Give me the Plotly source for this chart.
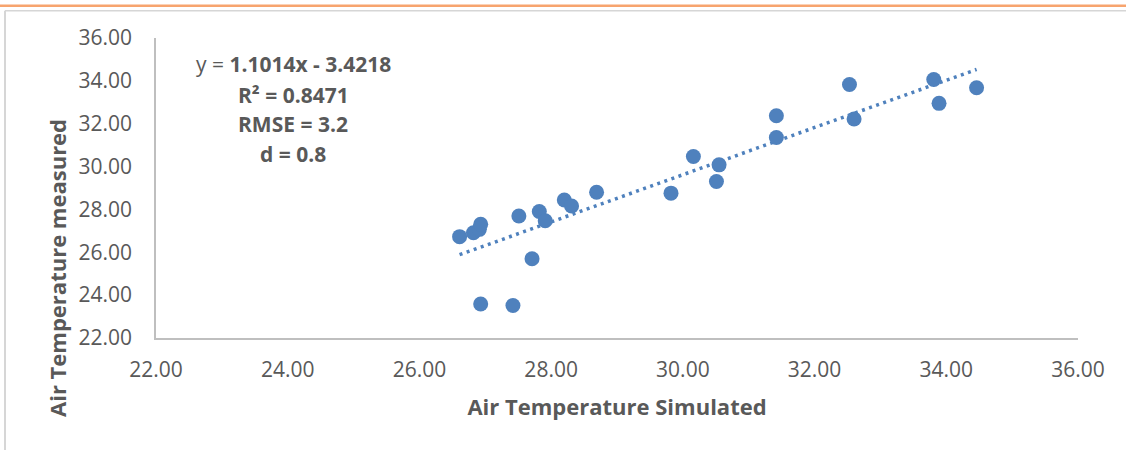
import plotly.graph_objects as go

# ---- data ----
simulated = [26.61, 26.82, 26.91, 26.93, 26.93, 27.42, 27.51, 27.71, 27.82, 27.91,
             28.20, 28.31, 28.69, 29.82, 30.16, 30.51, 30.55, 31.42, 31.42, 32.53,
             32.60, 33.81, 33.89, 34.46]
measured = [26.73, 26.91, 27.07, 27.31, 23.59, 23.52, 27.69, 25.70, 27.90, 27.47,
            28.44, 28.16, 28.80, 28.76, 30.47, 29.30, 30.08, 31.36, 32.37, 33.83,
            32.22, 34.06, 32.95, 33.68]
slope = 1.1014
intercept = -3.4218
stats_lines = ["y = <b>1.1014x - 3.4218</b>", "<b>R² = 0.8471</b>",
               "<b>RMSE = 3.2</b>", "<b>d = 0.8</b>"]
axis_ticks = [22, 24, 26, 28, 30, 32, 34, 36]
x_title = "Air Temperature Simulated"
y_title = "Air Temperature measured"

W, H = 1126, 450
L, R, T, B = 156, 48, 38, 112
PW, PH = W - L - R, H - T - B


def px(xp):
    return (xp - L) / PW


def py(yp):
    return (H - B - yp) / PH


blue = "#4F81BD"
grey_text = "#595959"
font_fam = "Open Sans"

x_fit = [min(simulated), max(simulated)]
y_fit = [slope * v + intercept for v in x_fit]

fig = go.Figure()
fig.add_trace(go.Scatter(x=x_fit, y=y_fit, mode="lines",
                         line=dict(color=blue, width=3.5, dash="3px,4.5px"),
                         hoverinfo="skip", showlegend=False))
fig.add_trace(go.Scatter(x=simulated, y=measured, mode="markers",
                         marker=dict(color=blue, size=15, line=dict(width=0)),
                         showlegend=False))

axis_common = dict(range=[22, 36], tickvals=axis_ticks, tickformat=".2f",
                   showgrid=False, zeroline=False, showline=True,
                   linecolor="#BFBFBF", linewidth=1.5, ticks="",
                   tickfont=dict(family=font_fam, size=21, color=grey_text),
                   automargin=False)

fig.update_xaxes(**axis_common, ticklabelstandoff=12,
                 title=dict(text="<b>" + x_title + "</b>", standoff=18,
                            font=dict(family=font_fam, size=22, color=grey_text)))
fig.update_yaxes(**axis_common, ticklabelstandoff=18)

annotations = []
for line, yp in zip(stats_lines, [64, 95, 124, 154]):
    annotations.append(dict(text=line, xref="paper", yref="paper", x=px(293), y=py(yp),
                            xanchor="center", yanchor="middle", showarrow=False,
                            font=dict(family=font_fam, size=21, color=grey_text)))
annotations.append(dict(text="<b>" + y_title + "</b>", xref="paper", yref="paper",
                        x=px(57), y=py(268), xanchor="center", yanchor="middle",
                        textangle=-90, showarrow=False,
                        font=dict(family=font_fam, size=22, color=grey_text)))

shapes = [
    dict(type="line", xref="paper", yref="paper", x0=px(0), x1=px(1126), y0=py(5.8), y1=py(5.8),
         line=dict(color="#F7A46E", width=2.5)),
    dict(type="line", xref="paper", yref="paper", x0=px(5), x1=px(1126), y0=py(10.8), y1=py(10.8),
         line=dict(color="#D6D6D6", width=1.5)),
    dict(type="line", xref="paper", yref="paper", x0=px(5), x1=px(5), y0=py(10.8), y1=py(450),
         line=dict(color="#D6D6D6", width=2)),
]

fig.update_layout(width=W, height=H, margin=dict(l=L, r=R, t=T, b=B),
                  paper_bgcolor="white", plot_bgcolor="white",
                  annotations=annotations, shapes=shapes, showlegend=False)

fig.write_html("out.html", config={"displayModeBar": False},
               post_script="document.body.style.margin='0px';document.body.style.overflow='hidden';")
